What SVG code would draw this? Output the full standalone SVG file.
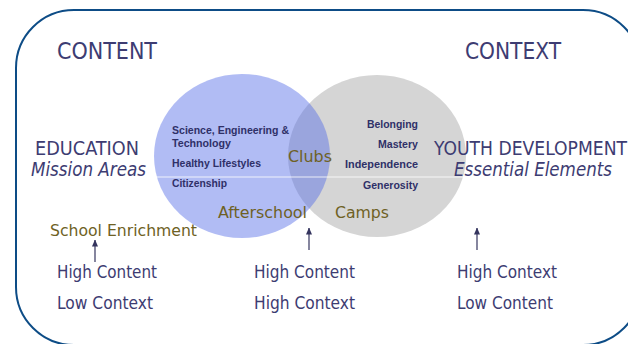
<svg xmlns="http://www.w3.org/2000/svg" width="628" height="344" viewBox="0 0 628 344">
<defs>
<style>
.big{font-family:"DejaVu Sans Condensed","DejaVu Sans","Liberation Sans",sans-serif;fill:#3d3c72;}
.it{font-style:italic;}
.sm{font-family:"Liberation Sans",Arial,sans-serif;font-weight:bold;font-size:11px;fill:#2f3068;}
.ol{font-family:"DejaVu Sans Condensed","DejaVu Sans","Liberation Sans",sans-serif;fill:#6e6124;font-size:16px;}
.arr{stroke:#34345e;stroke-width:1.2;fill:none;}
</style>
<marker id="ah" viewBox="0 0 7 6" refX="6.5" refY="3" markerWidth="7" markerHeight="6" orient="auto" markerUnits="userSpaceOnUse">
<path d="M0,0 L7,3 L0,6 Z" fill="#34345e"/>
</marker>
</defs>
<rect width="628" height="344" fill="#ffffff"/>
<rect id="frame" x="16" y="10" width="625" height="335" rx="58" ry="58" fill="none" stroke="#0d4c86" stroke-width="2"/>

<g id="context-circle"><ellipse cx="377" cy="156" rx="89" ry="81" fill="#d5d5d5"/></g>
<g id="content-circle"><ellipse cx="242" cy="156" rx="88" ry="82" fill="#566ee8" fill-opacity="0.46"/></g>
<line x1="152" y1="177" x2="622" y2="177" stroke="#ffffff" stroke-width="1" stroke-opacity="0.8"/>

<g id="content-title"><text class="big" x="57" y="59" font-size="23" textLength="100" lengthAdjust="spacingAndGlyphs">CONTENT</text></g>
<g id="context-title"><text class="big" x="465" y="59" font-size="23" textLength="96" lengthAdjust="spacingAndGlyphs">CONTEXT</text></g>

<g id="education">
<text class="big" x="35" y="155" font-size="19" textLength="104" lengthAdjust="spacingAndGlyphs">EDUCATION</text>
<text class="big it" x="31" y="176" font-size="19" textLength="115" lengthAdjust="spacingAndGlyphs">Mission Areas</text>
</g>
<g id="youth">
<text class="big" x="434" y="155" font-size="19" textLength="193" lengthAdjust="spacingAndGlyphs">YOUTH DEVELOPMENT</text>
<text class="big it" x="454" y="176" font-size="19" textLength="158" lengthAdjust="spacingAndGlyphs">Essential Elements</text>
</g>

<g id="mission-areas">
<text class="sm" x="172" y="134" textLength="117" lengthAdjust="spacingAndGlyphs">Science, Engineering &amp;</text>
<text class="sm" x="172" y="147" textLength="59" lengthAdjust="spacingAndGlyphs">Technology</text>
<text class="sm" x="172" y="167" textLength="89" lengthAdjust="spacingAndGlyphs">Healthy Lifestyles</text>
<text class="sm" x="172" y="187" textLength="55" lengthAdjust="spacingAndGlyphs">Citizenship</text>
</g>
<g id="essential-elements">
<text class="sm" x="418" y="128" text-anchor="end" textLength="51" lengthAdjust="spacingAndGlyphs">Belonging</text>
<text class="sm" x="418" y="148" text-anchor="end" textLength="40" lengthAdjust="spacingAndGlyphs">Mastery</text>
<text class="sm" x="418" y="168" text-anchor="end" textLength="73" lengthAdjust="spacingAndGlyphs">Independence</text>
<text class="sm" x="418" y="189" text-anchor="end" textLength="55" lengthAdjust="spacingAndGlyphs">Generosity</text>
</g>

<g id="clubs"><text class="ol" x="288" y="162" textLength="44" lengthAdjust="spacingAndGlyphs">Clubs</text></g>
<g id="afterschool"><text class="ol" x="218" y="218" textLength="89" lengthAdjust="spacingAndGlyphs">Afterschool</text></g>
<g id="camps"><text class="ol" x="335" y="218" textLength="54" lengthAdjust="spacingAndGlyphs">Camps</text></g>
<g id="school-enrichment"><text class="ol" x="50" y="236" textLength="147" lengthAdjust="spacingAndGlyphs">School Enrichment</text></g>

<g id="connectors">
<line class="arr" x1="95" y1="262" x2="95" y2="240" marker-end="url(#ah)"/>
<line class="arr" x1="309" y1="250" x2="309" y2="228" marker-end="url(#ah)"/>
<line class="arr" x1="477" y1="250" x2="477" y2="228" marker-end="url(#ah)"/>
</g>

<g id="left-label">
<text class="big" x="57" y="278" font-size="18" textLength="100" lengthAdjust="spacingAndGlyphs">High Content</text>
<text class="big" x="57" y="309" font-size="18" textLength="96" lengthAdjust="spacingAndGlyphs">Low Context</text>
</g>
<g id="middle-label">
<text class="big" x="254" y="278" font-size="18" textLength="101" lengthAdjust="spacingAndGlyphs">High Content</text>
<text class="big" x="254" y="309" font-size="18" textLength="101" lengthAdjust="spacingAndGlyphs">High Context</text>
</g>
<g id="right-label">
<text class="big" x="457" y="278" font-size="18" textLength="100" lengthAdjust="spacingAndGlyphs">High Context</text>
<text class="big" x="457" y="309" font-size="18" textLength="96" lengthAdjust="spacingAndGlyphs">Low Content</text>
</g>
</svg>
